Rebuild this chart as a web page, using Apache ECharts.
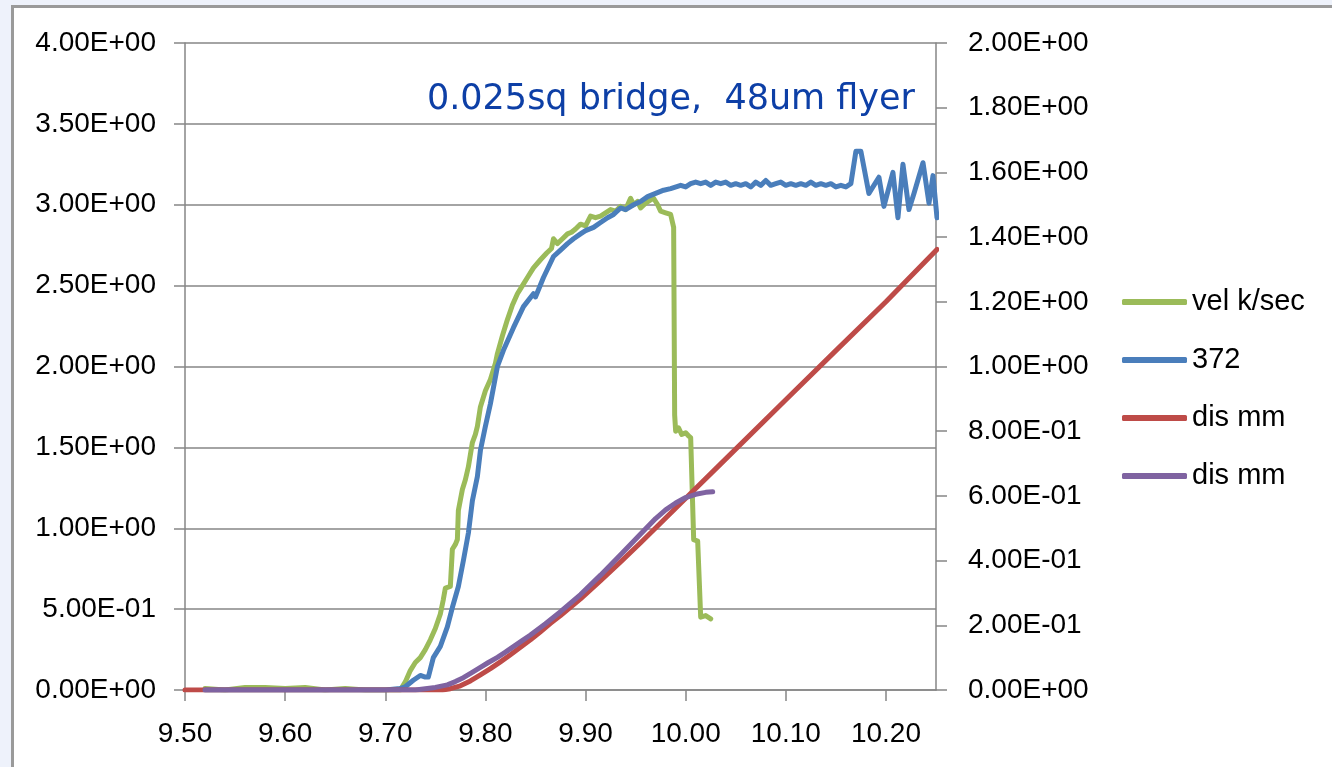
<!DOCTYPE html>
<html>
<head>
<meta charset="utf-8">
<script src="https://cdn.jsdelivr.net/npm/echarts@6/dist/echarts.min.js"></script>
<style>
html,body{margin:0;padding:0;background:#eef2fb;width:1332px;height:767px;overflow:hidden;}
#frame{position:absolute;left:11px;top:5px;width:1400px;height:900px;background:#fff;border:3px solid #9a9a9a;}
#chart{position:absolute;left:0;top:0;width:1332px;height:767px;}
</style>
</head>
<body>
<div id="frame"></div>
<div id="chart"></div>
<script>
// ---- data ----
const xTicks = [9.5, 9.6, 9.7, 9.8, 9.9, 10.0, 10.1, 10.2];
const titleText = '0.025sq bridge,  48um flyer';
const seriesNames = ['vel k/sec', '372', 'dis mm', 'dis mm'];

const velX = [9.52,9.54,9.56,9.58,9.60,9.62,9.64,9.66,9.68,9.70,9.715,9.72,9.725,9.73,9.735,9.74,9.745,9.75,9.755,9.758,9.760,9.765,9.767,9.770,9.772,9.773,9.777,9.780,9.783,9.787,9.790,9.792,9.795,9.80,9.805,9.81,9.812,9.817,9.822,9.827,9.832,9.837,9.842,9.848,9.855,9.861,9.866,9.868,9.872,9.877,9.882,9.886,9.890,9.895,9.90,9.905,9.91,9.915,9.92,9.925,9.93,9.935,9.94,9.945,9.948,9.952,9.955,9.96,9.965,9.968,9.972,9.975,9.98,9.985,9.988,9.989,9.990,9.993,9.996,10.000,10.003,10.005,10.008,10.012,10.015,10.02,10.025];
const velY = [0.01,0.00,0.015,0.015,0.01,0.015,0.00,0.01,0.00,0.00,0.00,0.05,0.12,0.17,0.20,0.25,0.31,0.38,0.47,0.56,0.63,0.64,0.87,0.90,0.93,1.11,1.24,1.30,1.38,1.53,1.58,1.63,1.75,1.85,1.92,2.02,2.08,2.19,2.29,2.38,2.45,2.50,2.55,2.61,2.66,2.70,2.73,2.79,2.76,2.79,2.82,2.83,2.85,2.88,2.87,2.93,2.92,2.93,2.95,2.97,2.96,2.99,2.97,3.04,3.00,3.02,2.98,3.01,3.03,3.04,3.00,2.96,2.95,2.94,2.86,1.70,1.60,1.62,1.58,1.59,1.57,1.56,0.93,0.92,0.45,0.46,0.44];

const b372X = [9.52,9.60,9.70,9.715,9.720,9.728,9.735,9.740,9.743,9.748,9.755,9.762,9.767,9.773,9.778,9.783,9.787,9.792,9.795,9.80,9.805,9.812,9.818,9.828,9.838,9.848,9.850,9.858,9.868,9.875,9.882,9.888,9.895,9.90,9.908,9.915,9.922,9.928,9.935,9.94,9.948,9.955,9.962,9.97,9.978,9.985,9.995,10.00,10.005,10.01,10.015,10.02,10.025,10.03,10.035,10.04,10.045,10.05,10.055,10.06,10.065,10.07,10.075,10.08,10.085,10.09,10.095,10.10,10.105,10.11,10.115,10.12,10.125,10.13,10.135,10.14,10.145,10.15,10.155,10.16,10.165,10.170,10.175,10.183,10.193,10.198,10.207,10.212,10.217,10.223,10.228,10.237,10.243,10.247,10.251];
const b372Y = [0,0,0,0.01,0.02,0.06,0.09,0.08,0.08,0.20,0.27,0.39,0.51,0.64,0.80,0.97,1.17,1.32,1.48,1.63,1.77,2.00,2.10,2.24,2.37,2.45,2.43,2.55,2.68,2.72,2.76,2.79,2.82,2.84,2.86,2.89,2.92,2.94,2.98,2.97,3.00,3.02,3.05,3.07,3.09,3.10,3.12,3.11,3.13,3.14,3.13,3.14,3.12,3.14,3.13,3.14,3.12,3.13,3.12,3.13,3.11,3.14,3.12,3.15,3.12,3.13,3.14,3.12,3.13,3.12,3.13,3.12,3.14,3.12,3.13,3.12,3.13,3.11,3.12,3.11,3.13,3.33,3.33,3.07,3.17,2.99,3.20,2.92,3.25,2.97,3.07,3.26,3.01,3.18,2.92];

const disAX = [9.50,9.55,9.60,9.65,9.70,9.75,9.757,9.765,9.775,9.785,9.795,9.805,9.815,9.825,9.835,9.845,9.855,9.865,9.875,9.895,9.915,9.935,9.955,9.975,9.995,10.035,10.10,10.15,10.20,10.251];
const disAY = [0,0,0,0,0,0,0,0.004,0.013,0.028,0.047,0.066,0.087,0.109,0.132,0.155,0.18,0.206,0.23,0.282,0.338,0.396,0.455,0.516,0.577,0.699,0.897,1.049,1.20,1.362];

const disBX = [9.52,9.60,9.70,9.73,9.738,9.75,9.762,9.77,9.778,9.786,9.795,9.803,9.812,9.82,9.828,9.836,9.845,9.86,9.875,9.895,9.915,9.935,9.955,9.97,9.98,9.99,10.0,10.01,10.02,10.027];
const disBY = [0,0,0,0,0.003,0.008,0.016,0.026,0.038,0.053,0.07,0.085,0.101,0.117,0.134,0.151,0.17,0.205,0.242,0.295,0.355,0.418,0.482,0.53,0.557,0.578,0.595,0.605,0.611,0.613];

// ---- chart ----
function pairs(xs, ys){ return xs.map((x,i)=>[x, ys[i]]); }
function sci(v){
  if (Math.abs(v) < 1e-12) return '0.00E+00';
  let e = Math.floor(Math.log10(Math.abs(v)) + 1e-9);
  let m = v / Math.pow(10, e);
  if (Math.abs(m) >= 9.995) { m /= 10; e += 1; }
  const ae = Math.abs(e);
  return m.toFixed(2) + 'E' + (e < 0 ? '-' : '+') + (ae < 10 ? '0' + ae : ae);
}
const font = 'Liberation Sans';
const axisColor = '#868686';
const txtColor = '#000';
const colors = ['#9bbb59', '#4a7ebb', '#be4b48', '#7f63a1'];
const legendKeys = seriesNames.map((n, i) => n + '#' + i);
const chart = echarts.init(document.getElementById('chart'), null, {renderer:'canvas'});
const lineCommon = (i, yIdx, data) => ({
  name: legendKeys[i], type:'line', yAxisIndex:yIdx, data, showSymbol:false, symbol:'none',
  lineStyle:{color:colors[i], width:5, cap:'round', join:'round'}, itemStyle:{color:colors[i]},
  animation:false, z:2 + i, silent:true
});
chart.setOption({
  backgroundColor:'transparent',
  animation:false,
  grid:{left:185, right:396, top:43, bottom:77, containLabel:false},
  xAxis:{
    type:'value', min:9.5, max:10.25, interval:0.1,
    axisLine:{show:true, onZero:false, lineStyle:{color:axisColor, width:1.5}},
    axisTick:{show:true, length:11, inside:false, customValues:xTicks, lineStyle:{color:axisColor, width:1.5}},
    axisLabel:{customValues:xTicks, margin:30, fontFamily:font, fontSize:28, color:txtColor, formatter:v=>Number(v).toFixed(2)},
    splitLine:{show:false}
  },
  yAxis:[{
    type:'value', min:0, max:4, interval:0.5, position:'left',
    axisLine:{show:true, lineStyle:{color:axisColor, width:1.5}},
    axisTick:{show:true, length:11, lineStyle:{color:axisColor, width:1.5}},
    axisLabel:{margin:29, fontFamily:font, fontSize:28, color:txtColor, formatter:sci},
    splitLine:{show:true, lineStyle:{color:axisColor, width:1.5}}
  },{
    type:'value', min:0, max:2, interval:0.2, position:'right',
    axisLine:{show:true, lineStyle:{color:axisColor, width:1.5}},
    axisTick:{show:true, length:11, lineStyle:{color:axisColor, width:1.5}},
    axisLabel:{margin:32, fontFamily:font, fontSize:28, color:txtColor, formatter:sci},
    splitLine:{show:false}
  }],
  legend:{
    orient:'vertical', left:1122, top:287, padding:0,
    itemWidth:65, itemHeight:6, itemGap:28, icon:'roundRect',
    textStyle:{fontFamily:font, fontSize:29, color:txtColor, lineHeight:30},
    selectedMode:false,
    formatter: name => name.split('#')[0],
    data: legendKeys.map((k, i) => ({name:k, itemStyle:{color:colors[i]}}))
  },
  graphic:[{
    type:'text', x:915, y:100,
    style:{text:titleText, fill:'#0d3fa6', font:'35px "DejaVu Sans"', textAlign:'right', textVerticalAlign:'middle'}
  }],
  series:[
    lineCommon(0, 0, pairs(velX, velY)),
    lineCommon(1, 0, pairs(b372X, b372Y)),
    lineCommon(2, 1, pairs(disAX, disAY)),
    lineCommon(3, 1, pairs(disBX, disBY))
  ]
});
</script>
</body>
</html>
